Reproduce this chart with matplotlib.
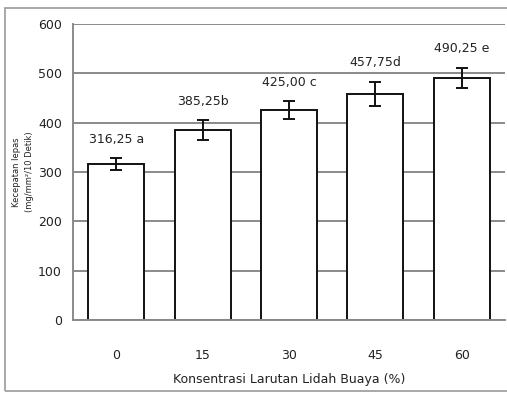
import matplotlib
matplotlib.use('Agg')
import matplotlib.pyplot as plt
from matplotlib.patches import Rectangle
import numpy as np

plt.rcParams['font.family'] = ['Liberation Sans Narrow', 'DejaVu Sans']

# data
konsentrasi = ['0', '15', '30', '45', '60']
kecepatan = [316.25, 385.25, 425.00, 457.75, 490.25]
galat = [12, 20, 18, 25, 21]
label_nilai = ['316,25 a', '385,25b', '425,00 c', '457,75d', '490,25 e']

fig = plt.figure(figsize=(5.07, 3.93), dpi=100)
ax = fig.add_axes([0.144, 0.186, 0.852, 0.753])

x = np.arange(len(konsentrasi))
ax.set_axisbelow(True)
ax.yaxis.grid(True, color='#8a8a8a', linewidth=1.4)
ax.bar(x, kecepatan, width=0.65, color='white', edgecolor='#111111', linewidth=1.4,
       yerr=galat, error_kw=dict(ecolor='#111111', elinewidth=1.4, capsize=4, capthick=1.4))

for xi, v, e, t in zip(x, kecepatan, galat, label_nilai):
    ax.annotate(t, (xi, v + e), xytext=(0, 9), textcoords='offset points',
                ha='center', va='bottom', fontsize=9, color='#222222')

ax.set_xlim(-0.5, 4.5)
ax.set_ylim(0, 600)
ax.set_yticks(range(0, 601, 100))
ax.set_xticks(x)
ax.set_xticklabels(konsentrasi)
ax.tick_params(length=0, labelsize=9, colors='#222222')
ax.tick_params(axis='y', pad=8)
ax.tick_params(axis='x', pad=21)

for s in ['top', 'right']:
    ax.spines[s].set_visible(False)
for s in ['left', 'bottom']:
    ax.spines[s].set_color('#8a8a8a')
    ax.spines[s].set_linewidth(1.4)

ax.set_xlabel('Konsentrasi Larutan Lidah Buaya (%)', fontsize=9, color='#222222', labelpad=8)
ax.set_ylabel('Kecepatan lepas\n(mg/mm²/10 Detik)', fontsize=6, color='#222222',
              labelpad=3, linespacing=1.5)

# outer frame
fig.patches.append(Rectangle((0.01, 0.006), 1.2, 0.974, transform=fig.transFigure,
                             fill=False, edgecolor='#9a9a9a', linewidth=1.2))

fig.savefig('out.png', dpi=100)
